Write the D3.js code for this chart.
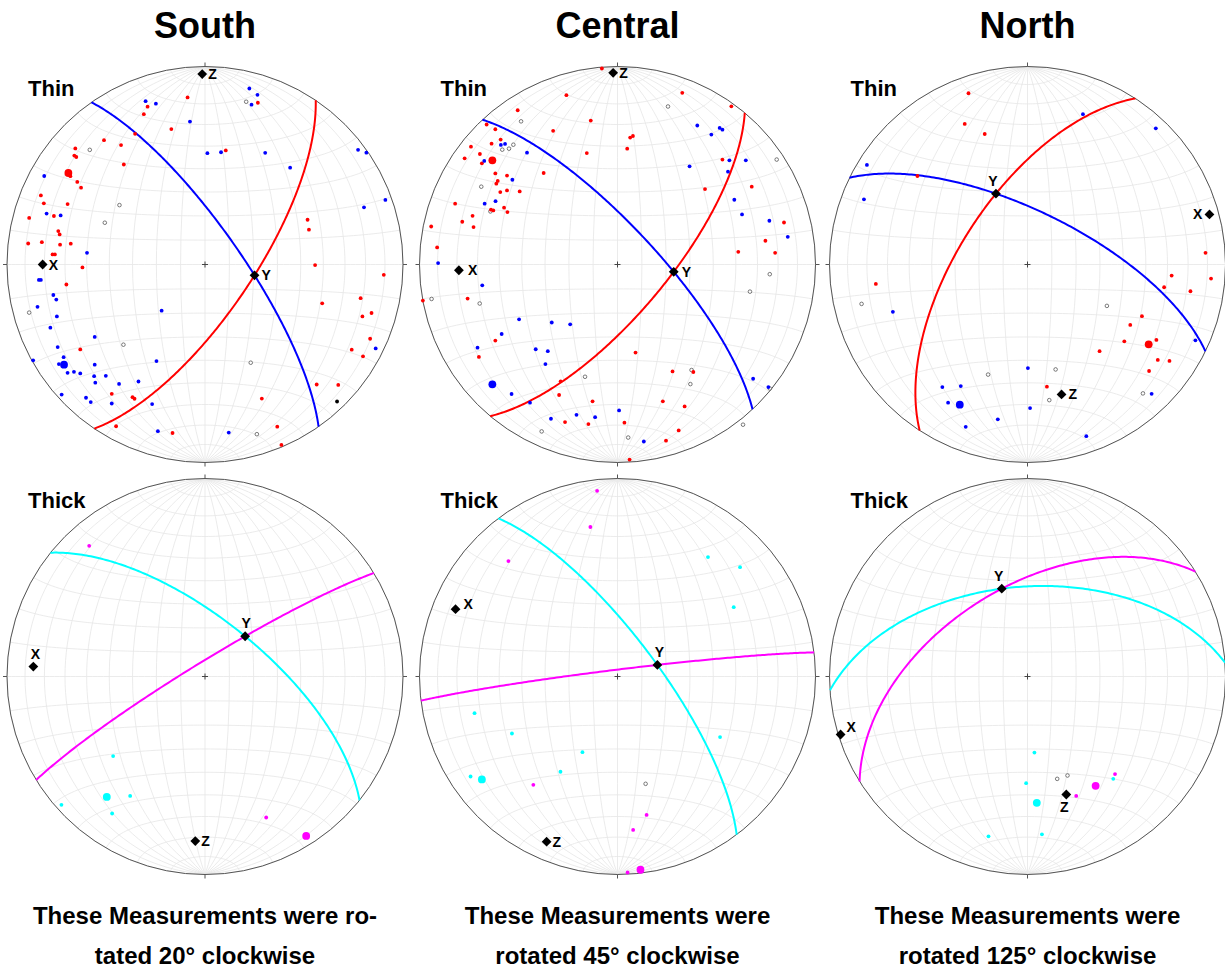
<!DOCTYPE html>
<html>
<head>
<meta charset="utf-8">
<script src="https://cdn.jsdelivr.net/npm/d3@7"></script>
<style>
  body { margin: 0; background: #fff; }
  svg text { font-family: "Liberation Sans", Arial, Helvetica, sans-serif; font-weight: bold; fill: #000; }
</style>
</head>
<body>
<svg id="chart" width="1225" height="970"></svg>
<script>
// ---------------------------------------------------------------------------
// Lower-hemisphere equal-area (Schmidt) stereonets, three regions x two beds.
// Point data are projected net coordinates, in percent of the net radius
// ([east, north]); planes are [strike, dip] using the right-hand rule.
// ---------------------------------------------------------------------------

const regions = ["South", "Central", "North"];
const bedTypes = ["Thin", "Thick"];
const captions = [
  ["These Measurements were ro-", "tated 20\u00B0 clockwise"],
  ["These Measurements were", "rotated 45\u00B0 clockwise"],
  ["These Measurements were", "rotated 125\u00B0 clockwise"]
];

// ---- South, thin beds ----
const southThinPlanes = [[325, 75.5], [34, 70.5]];           // blue, red
const southThinRed = [[-8.8,84.4],[26.7,81.7],[-29,79.7],[-30.9,75.9],[-17,68.4],[-35.3,66],[-51,62.8],[-42.4,60.3],[10.5,57.6],[-65.5,58.6],[-66,55],[-65,54.3],[-41,50.5],[-68,44.6],[-64.5,41.7],[-62.6,38.8],[-82.9,34.9],[-81.4,30.9],[-69.4,30.5],[-88.8,23.5],[-76.3,24.5],[-74.1,16.9],[-73.4,15.2],[-89.3,10.6],[-82.4,11.3],[-73.2,10],[-67.8,10.5],[-77,5.1],[-75.8,5.1],[51.8,22.6],[52.5,17.6],[55.6,-0.3],[-61.9,-1.5],[90.3,-5.2],[-70,-10.1],[59.2,-19.6],[78.6,-17],[79.5,-26.2],[84.1,-24.5],[83.4,-37.5],[74.1,-43],[79.8,-46.4],[-63,-42.9],[-47.1,-65.3],[-36.6,-67],[-35.6,-67.8],[56.4,-60.6],[67.3,-60.8],[28.7,-67.7],[-44.9,-81.7],[-16.4,-85.1],[36.5,-81.9],[38.6,-91.1]];
const southThinBlue = [[22.4,88.9],[26.5,85.7],[23.5,80.7],[-30,82.5],[-24.8,81.2],[-7.6,72.2],[1.2,56.2],[8.1,56.7],[30.4,56.4],[43,48.9],[77.3,57.9],[81.5,56.5],[91.1,32.6],[80.3,28.9],[-81.2,44.7],[-80,25.7],[-72.9,24.8],[-59.6,5.9],[-83.9,-7.8],[-82.9,-7.8],[-76.6,-15.4],[-75.1,-17.7],[-84.6,-21.4],[-74.8,-26.2],[-78.1,-31.9],[-21.9,-23.3],[-55.7,-36.6],[-74.4,-41.7],[-86.8,-48.4],[-71.4,-46.8],[-73.8,-50.3],[-69.4,-54.7],[-66.2,-54.2],[-63,-55],[-55.7,-50.6],[-56,-56.4],[-50.1,-56.2],[-55.4,-59.7],[-43.4,-60.3],[-33.6,-59.1],[-24.5,-48.8],[-72.4,-65.7],[-60.1,-67.3],[-57.7,-69.5],[-47.1,-70.2],[-26.7,-70.5],[-23.8,-84.2],[12,-84.9],[86.2,-42.4]];
const southThinOther = [[66.7,-69.2]];
const southThinOpen = [[20.8,82.2],[-58.2,57.9],[-43.2,30],[-50.6,21.1],[-88.8,-24.3],[-41.2,-40.5],[23.1,-49.6],[26.2,-85.7]];
const southThinMeans = [[-69,46.2],[-71.2,-50.6]];          // red, blue
const southThinX = [-82,0], southThinZ = [-1.4,96.2];

// ---- Central, thin beds ----
const centralThinPlanes = [[317, 74.6], [40, 70]];          // blue, red
const centralThinRed = [[-7.9,99],[-25.8,85.5],[32.7,86.7],[-50.4,77.9],[57.5,79.9],[-13.5,72.7],[-32.5,67.5],[-66.1,70.7],[-61.7,68.3],[-59,63.1],[-63.6,61],[-74,59.5],[-69.5,55.8],[-77.2,53.6],[-68.5,51.1],[6.4,64.1],[7.8,64.9],[-15.5,56.3],[4.9,58.5],[-37.3,46.2],[-61.7,46],[-55.8,44.9],[-60.5,42.2],[-61.2,40.8],[-59.2,36.6],[-55.8,37.4],[-49.4,36.9],[-82,30.7],[-57.3,28.7],[-63.9,27.7],[-62.7,27.3],[-55.6,26.5],[-73.2,24.6],[-78.4,21.6],[-72.7,18.9],[-94.1,19.2],[-91.1,8.6],[53,53],[44.2,38.1],[67.8,39.3],[84.1,21.2],[74.7,12],[61,6.4],[79.6,5.9],[-98.3,-18.2],[-75.7,-17.2],[-61.7,-38.4],[-70,-46.7],[9.1,-44.5],[27.8,-54],[38.3,-54.3],[-28.7,-59],[-29.5,-65.9],[-12.6,-69.1],[22.9,-69.1],[33.9,-71.7],[-26.5,-79.6],[-14.7,-80.6],[3.5,-79.9],[30.9,-83.8],[24.5,-89],[6.1,-98.5]];
const centralThinBlue = [[40.3,70.2],[47.4,65.6],[51.6,69],[53,68.1],[-58.9,60.4],[-56.8,60.9],[-67.3,52.3],[-45.7,56.5],[-53.1,42.8],[-61.6,32],[-67.1,30.7],[56.5,52.6],[64.8,52.6],[36.4,49.6],[55.8,46.9],[59,32.7],[62.9,25.3],[76.7,22.1],[86,14],[-90.6,0.7],[-68.3,-10.5],[-49.7,-27.7],[-33.2,-29.3],[-23.9,-30.2],[-58.5,-35.1],[-70.7,-42],[-41.3,-42.8],[-35.2,-43.8],[-36.4,-50.3],[-53.5,-65.4],[-44.2,-69.8],[-33.6,-77.9],[-20.7,-75.9],[-11.3,-77.1],[0.8,-73.7],[13.3,-89.4],[68.5,-57.7],[76.2,-61.9]];
const centralThinOpen = [[25.5,79.8],[-48.7,72.3],[-58.2,58],[-54.8,58.5],[-52.6,60.5],[-68.8,39.3],[-64.2,26.8],[80.4,53],[-93.9,-17.4],[-69.6,-19.7],[76.9,-4.9],[66.9,-13.7],[-16.4,-56.7],[37.4,-53.3],[36.8,-60.4],[76.9,-62.6],[-38.3,-84.3],[5.4,-87.4],[63.4,-80.9]];
const centralThinMeans = [[-63.2,52.6],[-63.2,-60.5]];      // red, blue
const centralThinX = [-80.1,-2.9], centralThinZ = [-2.2,96.8];

// ---- North, thin beds ----
const northThinPlanes = [[296, 68], [213, 62.2]];           // blue, red
const northThinRed = [[-29.8,86.5],[-31.7,71],[-21.6,65.9],[-55.6,44.7],[89.9,5.9],[-76.6,-9.8],[72.8,-5.6],[92.7,-7.1],[69,-11.5],[82.3,-13.5],[57.8,-26.1],[51.9,-30.5],[48.9,-38.8],[65.1,-38.1],[36.4,-43.8],[65.8,-48.2],[71.7,-48.7],[61.4,-53.8],[9.8,-61.7]];
const northThinBlue = [[28,75.9],[64.8,68.8],[-81.1,50.3],[-82.6,32.9],[-68,-23.9],[84.8,-38.3],[0.2,-52.3],[-43,-61.9],[-33.7,-61.4],[-40.1,-69.8],[1.3,-72.5],[-15,-78.2],[-31.2,-82],[29.7,-86.7],[62.7,-65.3]];
const northThinOpen = [[-83.8,-19.9],[40.1,-20.9],[-19.9,-55.6],[14.2,-53],[11,-68.5],[58.3,-65.1]];
const northThinMeans = [[61.2,-40.3],[-34.2,-70.8]];        // red, blue
const northThinX = [91.9,25.3], northThinZ = [17.2,-65.6];

// ---- South, thick beds ----
const southThickPlanes = [[308.7, 66.7], [238.5, 84.2]];    // cyan, magenta
const southThickCyan = [[-46.4,-40.2],[-37.8,-60.3],[-72.5,-64.8],[-46.9,-69.2]];
const southThickMagenta = [[-58.5,66],[30.9,-71.2]];
const southThickMeans = [[-49.6,-60.8],[51.1,-80.5]];       // cyan, magenta
const southThickX = [-86.7,5], southThickZ = [-4.9,-83.1];

// ---- Central, thick beds ----
const centralThickPlanes = [[323, 74], [263, 87.2]];        // cyan, magenta
const centralThickCyan = [[45.7,60.3],[61.9,55.2],[58.7,35],[-72.2,-18.5],[-53.3,-28.8],[-17.7,-38.2],[-28.8,-48.1],[-74.2,-50.5],[51.8,-30.6]];
const centralThickMagenta = [[-10.3,93.8],[-13.7,75.5],[-55.1,58.3],[-42.5,-54.7],[14.7,-69.9],[7.9,-77.5],[5.1,-99]];
const centralThickOpen = [[14.2,-54.2]];
const centralThickMeans = [[-68.5,-52],[11.6,-97.6]];       // cyan, magenta
const centralThickX = [-81.8,34], centralThickZ = [-35.8,-83.4];

// ---- North, thick beds ----
const northThickPlanes = [[266, 52.5], [238, 52.9]];        // cyan, magenta
const northThickCyan = [[3.5,-38.4],[-0.7,-53.9],[43.3,-51.7],[-19.7,-80.7],[7.3,-79.7]];
const northThickMagenta = [[44.2,-49.3],[24.6,-60.3]];
const northThickOpen = [[15,-51.7],[20.2,-50]];
const northThickMeans = [[4.7,-63.8],[34.4,-55.2]];         // cyan, magenta
const northThickX = [-94.4,-29.3], northThickZ = [19.6,-59.6];

// ---------------------------------------------------------------------------
const RED = "#ff0000", BLUE = "#0000ff", CYAN = "#00ffff", MAGENTA = "#ff00ff";
const colX = [205, 617.5, 1027.5], rowY = [264.5, 676.5], R = 198;

const nets = [
  { col: 0, row: 0, planes: southThinPlanes, planeColors: [BLUE, RED],
    dots: [[southThinRed, RED], [southThinBlue, BLUE], [southThinOther, "#000"]],
    open: southThinOpen, means: southThinMeans, meanColors: [RED, BLUE],
    X: southThinX, Z: southThinZ,
    lab: { X: [6, 5, "start"], Y: [7, 5, "start"], Z: [6, 5, "start"] } },
  { col: 1, row: 0, planes: centralThinPlanes, planeColors: [BLUE, RED],
    dots: [[centralThinRed, RED], [centralThinBlue, BLUE]],
    open: centralThinOpen, means: centralThinMeans, meanColors: [RED, BLUE],
    X: centralThinX, Z: centralThinZ,
    lab: { X: [9, 5, "start"], Y: [8, 5, "start"], Z: [6, 5, "start"] } },
  { col: 2, row: 0, planes: northThinPlanes, planeColors: [BLUE, RED],
    dots: [[northThinRed, RED], [northThinBlue, BLUE]],
    open: northThinOpen, means: northThinMeans, meanColors: [RED, BLUE],
    X: northThinX, Z: northThinZ,
    lab: { X: [-7, 5, "end"], Y: [-3, -8, "middle"], Z: [7, 5, "start"] } },
  { col: 0, row: 1, planes: southThickPlanes, planeColors: [CYAN, MAGENTA],
    dots: [[southThickCyan, CYAN], [southThickMagenta, MAGENTA]],
    open: [], means: southThickMeans, meanColors: [CYAN, MAGENTA],
    X: southThickX, Z: southThickZ,
    lab: { X: [2, -8, "middle"], Y: [1, -8, "middle"], Z: [6, 5, "start"] } },
  { col: 1, row: 1, planes: centralThickPlanes, planeColors: [CYAN, MAGENTA],
    dots: [[centralThickCyan, CYAN], [centralThickMagenta, MAGENTA]],
    open: centralThickOpen, means: centralThickMeans, meanColors: [CYAN, MAGENTA],
    X: centralThickX, Z: centralThickZ,
    lab: { X: [8, 0, "start"], Y: [2, -8, "middle"], Z: [6, 5, "start"] } },
  { col: 2, row: 1, planes: northThickPlanes, planeColors: [CYAN, MAGENTA],
    dots: [[northThickCyan, CYAN], [northThickMagenta, MAGENTA]],
    open: northThickOpen, means: northThickMeans, meanColors: [CYAN, MAGENTA],
    X: northThickX, Z: northThickZ,
    lab: { X: [6, -3, "start"], Y: [-3, -8, "middle"], Z: [-2, 17, "middle"] } }
];

// ---- spherical helpers (N, E, Down) ----
const rad = Math.PI / 180;
function lineVec(trend, plunge) {
  const t = trend * rad, p = plunge * rad;
  return [Math.cos(p) * Math.cos(t), Math.cos(p) * Math.sin(t), Math.sin(p)];
}
// lower-hemisphere vector -> [lon, lat] for an equatorial-aspect net
function toGeo(v) {
  let [n, e, d] = v;
  if (d < -1e-9) { n = -n; e = -e; d = -d; }
  const len = Math.hypot(n, e, d);
  return [Math.atan2(e, d) / rad, Math.asin(Math.max(-1, Math.min(1, n / len))) / rad];
}
function cross(a, b) {
  return [a[1] * b[2] - a[2] * b[1], a[2] * b[0] - a[0] * b[2], a[0] * b[1] - a[1] * b[0]];
}
function planeTrace([strike, dip]) {
  const s = lineVec(strike, 0), dv = lineVec(strike + 90, dip);
  const coords = [];
  for (let a = 0; a <= 180; a += 1) {
    const c = Math.cos(a * rad), sn = Math.sin(a * rad);
    coords.push(toGeo([c * s[0] + sn * dv[0], c * s[1] + sn * dv[1], Math.max(0, c * s[2] + sn * dv[2])]));
  }
  return { type: "LineString", coordinates: coords };
}
function planePole([strike, dip]) { return lineVec(strike + 270, 90 - dip); }

const svg = d3.select("#chart");

// column titles and captions
regions.forEach((name, i) => {
  svg.append("text").attr("x", colX[i]).attr("y", 38).attr("text-anchor", "middle")
    .style("font-size", "36px").text(name);
  captions[i].forEach((line, j) => {
    svg.append("text").attr("x", colX[i]).attr("y", 924 + j * 40).attr("text-anchor", "middle")
      .style("font-size", "24px").text(line);
  });
});

const graticule = d3.geoGraticule().extent([[-180, -90], [180, 90]]).step([10, 10]);
const diamond = d3.symbol().type(d3.symbolSquare).size(48);

nets.forEach(net => {
  const cx = colX[net.col], cy = rowY[net.row];
  const g = svg.append("g");
  const proj = d3.geoAzimuthalEqualArea()
    .rotate([0, 0]).scale(R / Math.SQRT2).translate([cx, cy])
    .clipAngle(90.0001).precision(0.1);
  const path = d3.geoPath(proj);
  const x = d3.scaleLinear().domain([-100, 100]).range([cx - R, cx + R]);
  const y = d3.scaleLinear().domain([-100, 100]).range([cy + R, cy - R]);

  // bed-type label
  svg.append("text").attr("x", cx - 177).attr("y", cy - 169)
    .style("font-size", "22px").text(bedTypes[net.row]);

  // net grid
  g.append("path").datum(graticule()).attr("d", path)
    .attr("fill", "none").attr("stroke", "#e6e6e6").attr("stroke-width", 0.8);
  // primitive circle
  g.append("circle").attr("cx", cx).attr("cy", cy).attr("r", R)
    .attr("fill", "none").attr("stroke", "#555").attr("stroke-width", 1);
  // cardinal ticks and centre cross
  const tk = [[0, -1], [1, 0], [0, 1], [-1, 0]];
  tk.forEach(([dx, dy]) => {
    g.append("line").attr("x1", cx + dx * R).attr("y1", cy + dy * R)
      .attr("x2", cx + dx * (R + 4)).attr("y2", cy + dy * (R + 4))
      .attr("stroke", "#555").attr("stroke-width", 1);
  });
  g.append("path").attr("d", `M${cx - 3},${cy}H${cx + 3}M${cx},${cy - 3}V${cy + 3}`)
    .attr("stroke", "#444").attr("stroke-width", 1);

  // great circles
  net.planes.forEach((pl, i) => {
    g.append("path").datum(planeTrace(pl)).attr("d", path)
      .attr("fill", "none").attr("stroke", net.planeColors[i]).attr("stroke-width", 2);
  });

  // open circles
  g.selectAll(null).data(net.open).join("circle")
    .attr("cx", d => x(d[0])).attr("cy", d => y(d[1])).attr("r", 1.8)
    .attr("fill", "#fff").attr("stroke", "#444").attr("stroke-width", 0.7);
  // measurement dots
  net.dots.forEach(([pts, col]) => {
    g.selectAll(null).data(pts).join("circle")
      .attr("cx", d => x(d[0])).attr("cy", d => y(d[1])).attr("r", 1.9)
      .attr("fill", col);
  });
  // mean directions
  g.selectAll(null).data(net.means).join("circle")
    .attr("cx", d => x(d[0])).attr("cy", d => y(d[1])).attr("r", 3.9)
    .attr("fill", (d, i) => net.meanColors[i]);

  // fold axes: Y is the intersection of the two planes
  const yGeo = toGeo(cross(planePole(net.planes[0]), planePole(net.planes[1])));
  const yPix = proj(yGeo);
  const axes = [
    ["X", [x(net.X[0]), y(net.X[1])]],
    ["Y", yPix],
    ["Z", [x(net.Z[0]), y(net.Z[1])]]
  ];
  axes.forEach(([name, p]) => {
    g.append("path").attr("d", diamond())
      .attr("transform", `translate(${p[0]},${p[1]}) rotate(45)`).attr("fill", "#000");
    const [dx, dy, anchor] = net.lab[name];
    g.append("text").attr("x", p[0] + dx).attr("y", p[1] + dy)
      .attr("text-anchor", anchor).style("font-size", "14px").text(name);
  });
});
</script>
</body>
</html>
